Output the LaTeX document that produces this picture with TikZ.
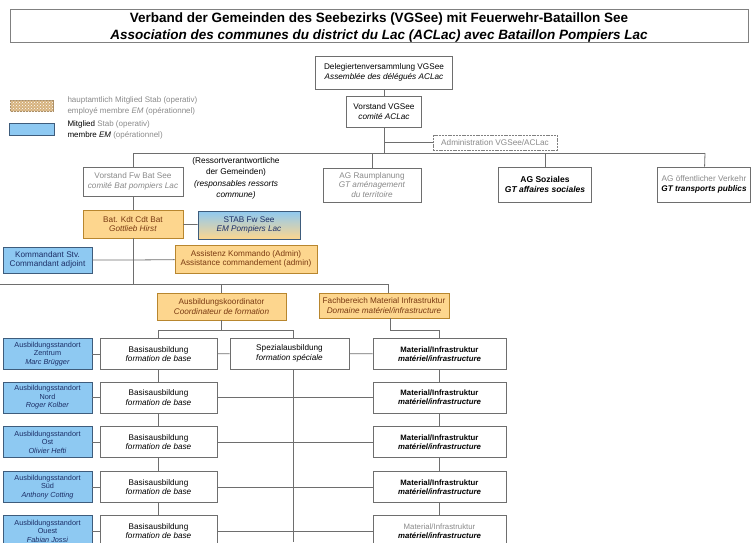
\documentclass[tikz,border=0pt]{standalone}
\usepackage{fontspec}
\setmainfont{Liberation Sans}
\usetikzlibrary{patterns}
\definecolor{orfill}{HTML}{FDD68E}
\definecolor{ordraw}{HTML}{B8862E}
\definecolor{ortext}{HTML}{7A3A12}
\definecolor{blfill}{HTML}{8EC9F2}
\definecolor{bldraw}{HTML}{3E5C7C}
\definecolor{bltext}{HTML}{1C2E66}
\definecolor{tanfill}{HTML}{D6B27E}
\definecolor{lncol}{HTML}{6E6E6E}
\definecolor{greytext}{HTML}{8A8A8A}
\tikzset{
  box/.style={draw=lncol, fill=white, line width=0.9pt, align=center, inner sep=1pt,
              font=\fontsize{8.2}{9.6}\selectfont},
  obox/.style={box, fill=orfill, draw=ordraw, text=ortext},
  bbox/.style={box, fill=blfill, draw=bldraw, text=bltext},
  conn/.style={draw=lncol, line width=0.8pt},
  legtext/.style={anchor=west, align=left, font=\fontsize{8}{11}\selectfont}
}
\begin{document}
\begin{tikzpicture}[x=1pt,y=-1pt]
\useasboundingbox (0,0) rectangle (752,542);
% title
\node[draw=gray, line width=1pt, minimum width=738pt, minimum height=33pt, inner sep=0pt] (titlebox) at (379,25.5) {};
\node[align=center, inner sep=0pt, font=\fontsize{13.5}{16.5}\selectfont\bfseries] (title) at (379,27.5)
  {Verband der Gemeinden des Seebezirks (VGSee) mit Feuerwehr-Bataillon See\\
   \itshape Association des communes du district du Lac (ACLac) avec Bataillon Pompiers Lac};
% legend
\node[draw=tanfill!80!black, fill=tanfill, minimum width=43pt, minimum height=11pt, inner sep=0pt] (legtan) at (31.5,105.5) {};
\fill[pattern=crosshatch dots, pattern color=white] (legtan.south west) rectangle (legtan.north east);
\node[legtext, text=greytext] (legtant) at (64,105.5) {hauptamtlich Mitglied Stab (operativ)\\employé membre \textit{EM} (opérationnel)};
\node[draw=bldraw, line width=1pt, fill=blfill, minimum width=45pt, minimum height=12pt, inner sep=0pt] (legbl) at (31.5,129.5) {};
\node[legtext] (legblt) at (64,130) {Mitglied \textcolor{greytext}{Stab (operativ)}\\membre \textit{EM} \textcolor{greytext}{(opérationnel)}};
% top hierarchy
\node[box, minimum width=137pt, minimum height=33pt] (del) at (384,72.5)
  {Delegiertenversammlung VGSee\\\textit{Assemblée des délégués ACLac}};
\node[box, minimum width=75pt, minimum height=31pt] (vor) at (384,111.5)
  {Vorstand VGSee\\\textit{comité ACLac}};
\node[box, draw=gray, dash pattern=on 2pt off 0.8pt, text=greytext, minimum width=124pt, minimum height=15pt] (admin) at (495,142.5)
  {Administration VGSee/ACLac};
\coordinate (bl) at (133,153);
\coordinate (br) at (705,153);
\coordinate (bm) at (384,153);
\coordinate (am) at (384,142.5);
\draw[conn] (del) -- (vor);
\draw[conn] (vor) -- (bm);
\draw[conn] (am) -- (admin);
\draw[conn] (bl) -- (br);
% second row
\node[box, text=greytext, minimum width=100pt, minimum height=29pt] (vfw) at (133,181.5)
  {Vorstand Fw Bat See\\\textit{comité Bat pompiers Lac}};
\node[align=center, font=\fontsize{8.3}{11.5}\selectfont, inner sep=0pt] (ress) at (236,178.5)
  {(Ressortverantwortliche\\der Gemeinden)\\\textit{(responsables ressorts}\\\textit{commune)}};
\node[box, text=greytext, minimum width=98pt, minimum height=34pt] (raum) at (372,185)
  {AG Raumplanung\\\textit{GT aménagement}\\\textit{du territoire}};
\node[box, minimum width=93pt, minimum height=35pt, font=\fontsize{8.5}{10.5}\selectfont] (soz) at (545,184.5)
  {\textbf{AG Soziales}\\\textbf{\textit{GT affaires sociales}}};
\node[box, minimum width=93pt, minimum height=35pt] (oev) at (704,184.5)
  {\textcolor{greytext}{AG öffentlicher Verkehr}\\\textbf{\textit{GT transports publics}}};
\draw[conn] (bl) -- (vfw);
\draw[conn] (raum.north |- bm) -- (raum);
\draw[conn] (soz.north |- bm) -- (soz);
\draw[conn] (br) -- (oev);
% battalion
\node[obox, minimum width=100pt, minimum height=28pt] (bkdt) at (133,224)
  {Bat. Kdt Cdt Bat\\\textit{Gottlieb Hirst}};
\node[box, draw=bldraw, top color=blfill, bottom color=orfill, text=bltext, minimum width=102pt, minimum height=28pt] (stab) at (249,225)
  {STAB Fw See\\\textit{EM Pompiers Lac}};
\node[bbox, minimum width=89pt, minimum height=26pt] (kstv) at (47.5,260)
  {Kommandant Stv.\\Commandant adjoint};
\node[obox, minimum width=142pt, minimum height=28pt] (assist) at (246,259)
  {Assistenz Kommando (Admin)\\Assistance commandement (admin)};
\coordinate (k1) at (133,260);
\coordinate (h0) at (0,284);
\coordinate (hm) at (133,284);
\coordinate (hr) at (388,284);
\draw[conn] (vfw) -- (bkdt);
\draw[conn] (bkdt) -- (hm);
\draw[conn] (bkdt) -- (stab);
\draw[conn] (kstv) -- (k1) -- (assist);
\draw[conn] (h0) -- (hr);
% training and material
\node[obox, minimum width=129pt, minimum height=27pt] (ausb) at (221.5,306.5)
  {Ausbildungskoordinator\\\textit{Coordinateur de formation}};
\node[obox, minimum width=130pt, minimum height=25pt] (fach) at (384,305.5)
  {Fachbereich Material Infrastruktur\\\textit{Domaine matériel/infrastructure}};
\draw[conn] (ausb.north |- hm) -- (ausb);
\draw[conn] (hr) -- (fach.north -| hr);
\coordinate (t1) at (221.5,330);
\coordinate (tl) at (158.5,330);
\coordinate (tr) at (293,330);
\coordinate (f1) at (390,330);
\coordinate (fr) at (439.5,330);
\draw[conn] (ausb) -- (t1);
\draw[conn] (tl) -- (tr);
\draw[conn] (fach.south -| f1) -- (f1) -- (fr);
% row nodes
\foreach \i/\yy/\place/\person in {1/354/Zentrum/Marc Brügger, 2/397.5/Nord/Roger Kolber, 3/442/Ost/Olivier Hefti, 4/487/Süd/Anthony Cotting, 5/531/Ouest/Fabian Jossi}{
  \node[bbox, minimum width=89pt, minimum height=31pt, font=\fontsize{7.3}{8.4}\selectfont] (std\i) at (47.5,\yy)
    {Ausbildungsstandort\\\place\\\textit{\person}};
  \node[box, minimum width=117pt, minimum height=31pt] (bas\i) at (158.5,\yy)
    {Basisausbildung\\\textit{formation de base}};
  \draw[conn] (std\i) -- (bas\i);
}
\foreach \i/\yy in {1/354, 2/397.5, 3/442, 4/487}{
  \node[box, minimum width=133pt, minimum height=31pt, font=\fontsize{7.8}{9.4}\selectfont] (mat\i) at (439.5,\yy)
    {\textbf{Material/Infrastruktur}\\\textbf{\textit{matériel/infrastructure}}};
}
\node[box, minimum width=133pt, minimum height=31pt, font=\fontsize{7.8}{9.4}\selectfont] (mat5) at (439.5,531)
  {\textcolor{greytext}{Material/Infrastruktur}\\\textbf{\textit{matériel/infrastructure}}};
\node[box, minimum width=119pt, minimum height=31pt] (spez) at (289.5,353.5)
  {Spezialausbildung\\\textit{formation spéciale}};
\coordinate (sb) at (293,542);
\draw[conn] (tl) -- (bas1);
\draw[conn] (tr) -- (spez.north -| tr);
\draw[conn] (spez.south -| tr) -- (sb);
\draw[conn] (fr) -- (mat1);
\draw[conn] (bas1) -- (spez);
\draw[conn] (spez) -- (mat1);
\foreach \i in {2,3,4,5}{ \draw[conn] (bas\i) -- (mat\i); }
\foreach \i/\j in {1/2,2/3,3/4,4/5}{
  \draw[conn] (bas\i) -- (bas\j);
  \draw[conn] (mat\i) -- (mat\j);
}
\end{tikzpicture}
\end{document}
